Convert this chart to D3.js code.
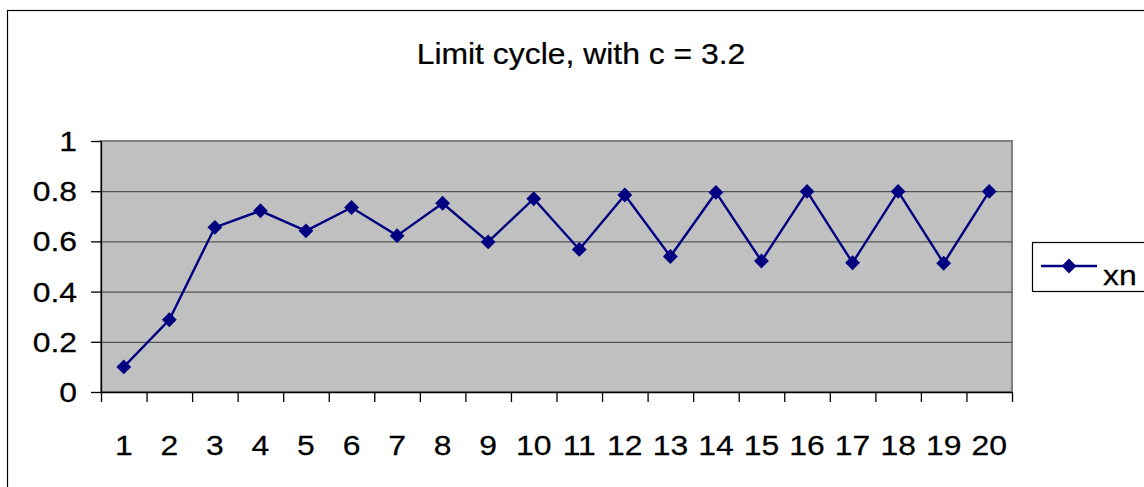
<html><head>
<title>Limit cycle</title>
<script src="https://cdn.jsdelivr.net/npm/d3@7/dist/d3.min.js" type="text/javascript"></script>
<style>
  body { margin: 0; background: #fff; }
  svg text { font-family: "Liberation Sans", Arial, sans-serif; fill: #000; stroke: #000; stroke-width: 0.25; }
  .grid line { stroke: #3a3a3a; stroke-width: 1; }
  .axis path, .axis line { stroke: #000; stroke-width: 1.3; }
</style>
</head>
<body>
<svg id="chart" width="1144" height="487"></svg>

<script type="text/javascript">

// values
var categories = ["1","2","3","4","5","6","7","8","9","10","11","12","13","14","15","16","17","18","19","20"]
var xn = [0.100, 0.288, 0.656, 0.722, 0.642, 0.735, 0.623, 0.752, 0.598, 0.770,
          0.568, 0.785, 0.540, 0.795, 0.522, 0.799, 0.515, 0.799, 0.513, 0.799]
var yTicks = [0, 0.2, 0.4, 0.6, 0.8, 1]
var title = "Limit cycle, with c = 3.2"
var seriesName = "xn"

var svg = d3.select("#chart")
var sx = 1.14  // the original text is a bit wide

// plot area edges (window.top is taken, so prefixed names)
var plotL = 101, plotR = 1012, plotT = 141, plotB = 392

var xScale = d3.scaleBand().domain(categories).range([plotL, plotR])
var xEdge = d3.scaleLinear().domain([0, categories.length]).range([plotL, plotR])
var yScale = d3.scaleLinear().domain([0, 1]).range([plotB, plotT])

// outer chart border
svg.append("rect")
  .attr("x", 7.5).attr("y", 10.5)
  .attr("width", 1200).attr("height", 600)
  .attr("fill", "#fff").attr("stroke", "#000").attr("stroke-width", 1.2)

// plot area
svg.append("rect")
  .attr("x", plotL).attr("y", plotT)
  .attr("width", plotR - plotL).attr("height", plotB - plotT)
  .attr("fill", "#c0c0c0").attr("stroke", "#808080").attr("stroke-width", 2)

var yGrid = d3.axisLeft(yScale).tickValues(yTicks.filter(function(d) { return d > 0 && d < 1 }))
  .tickSize(-(plotR - plotL)).tickFormat("")
svg.append("g").classed("grid", true).attr("transform", "translate(" + plotL + ",0)").call(yGrid)
  .select(".domain").remove()

// y axis
var yAxis = d3.axisLeft(yScale).tickValues(yTicks).tickSize(10).tickSizeOuter(0).tickFormat("")
svg.append("g").classed("axis", true).attr("transform", "translate(" + plotL + ",0)").call(yAxis)

svg.append("g").selectAll("text").data(yTicks).enter().append("text")
  .attr("transform", function(d) { return "translate(77," + (yScale(d) + 10) + ") scale(" + sx + ",1)" })
  .attr("text-anchor", "end")
  .style("font-size", "28px")
  .text(function(d) { return d3.format("~g")(d) })

// x axis
var xAxis = d3.axisBottom(xEdge).tickValues(d3.range(0, categories.length + 1))
  .tickSize(10).tickSizeOuter(0).tickFormat("")
svg.append("g").classed("axis", true).attr("transform", "translate(0," + plotB + ")").call(xAxis)

svg.append("g").selectAll("text").data(categories).enter().append("text")
  .attr("transform", function(d) { return "translate(" + (xScale(d) + xScale.bandwidth() / 2) + ",455) scale(" + sx + ",1)" })
  .attr("text-anchor", "middle")
  .style("font-size", "28px")
  .text(function(d) { return d })

// series
var line = d3.line()
  .x(function(d, i) { return xScale(categories[i]) + xScale.bandwidth() / 2 })
  .y(function(d) { return yScale(d) })

svg.append("path")
  .attr("d", line(xn))
  .attr("fill", "none").attr("stroke", "#000080").attr("stroke-width", 2.4)

var diamond = d3.symbol().type(d3.symbolSquare).size(110)
svg.append("g").selectAll("path").data(xn).enter().append("path")
  .attr("d", diamond)
  .attr("transform", function(d, i) {
    return "translate(" + (xScale(categories[i]) + xScale.bandwidth() / 2) + "," + yScale(d) + ") rotate(45)"
  })
  .attr("fill", "#000080")

// title
svg.append("text")
  .attr("transform", "translate(581,64) scale(1.1,1)")
  .attr("text-anchor", "middle")
  .style("font-size", "29px")
  .text(title)

// legend
var lg = svg.append("g")
lg.append("rect").attr("x", 1032.5).attr("y", 242.5).attr("width", 200).attr("height", 49)
  .attr("fill", "#fff").attr("stroke", "#000").attr("stroke-width", 1.2)
lg.append("line").attr("x1", 1041).attr("x2", 1097).attr("y1", 266).attr("y2", 266)
  .attr("stroke", "#000080").attr("stroke-width", 2.4)
lg.append("path").attr("d", diamond).attr("transform", "translate(1069,266) rotate(45)").attr("fill", "#000080")
lg.append("text").attr("transform", "translate(1103,285) scale(" + sx + ",1)")
  .style("font-size", "28px").text(seriesName)

</script>
</body>
</html>
